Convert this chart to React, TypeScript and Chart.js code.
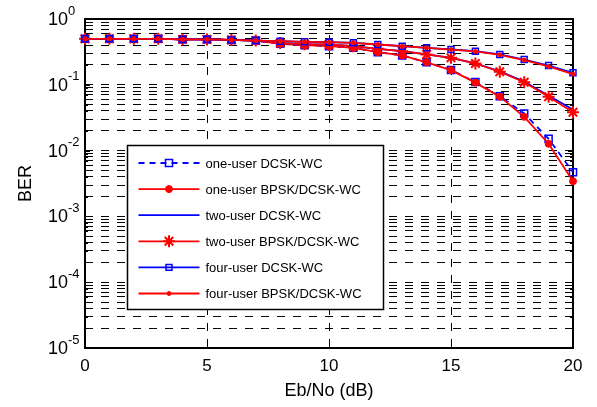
import React, { useEffect, useRef } from 'react';
import { Chart, registerables } from 'chart.js';
import { drawPoint } from 'chart.js/helpers';

Chart.register(...registerables);

// ---- data ----
const snrDb = [0, 1, 2, 3, 4, 5, 6, 7, 8, 9, 10, 11, 12, 13, 14, 15, 16, 17, 18, 19, 20];

const oneUserDCSK = [0.5, 0.5, 0.5, 0.5, 0.49, 0.49, 0.48, 0.47, 0.42, 0.4, 0.386, 0.365, 0.313, 0.279, 0.22, 0.168, 0.11, 0.067, 0.0366, 0.0151, 0.0047];
const oneUserBPSK = [0.5, 0.5, 0.5, 0.5, 0.49, 0.49, 0.48, 0.47, 0.42, 0.4, 0.386, 0.365, 0.313, 0.279, 0.22, 0.167, 0.108, 0.066, 0.0326, 0.0127, 0.00343];
const twoUserDCSK = [0.5, 0.5, 0.5, 0.5, 0.49, 0.49, 0.48, 0.47, 0.43, 0.415, 0.41, 0.386, 0.352, 0.324, 0.289, 0.257, 0.211, 0.16, 0.112, 0.068, 0.042];
const twoUserBPSK = [0.5, 0.5, 0.5, 0.5, 0.49, 0.49, 0.48, 0.47, 0.43, 0.415, 0.41, 0.386, 0.352, 0.324, 0.289, 0.257, 0.211, 0.158, 0.1095, 0.0657, 0.0383];
const fourUserDCSK = [0.5, 0.5, 0.5, 0.5, 0.49, 0.49, 0.48, 0.47, 0.46, 0.45, 0.444, 0.435, 0.41, 0.386, 0.365, 0.345, 0.324, 0.289, 0.242, 0.196, 0.152];
const fourUserBPSK = [0.5, 0.5, 0.5, 0.5, 0.49, 0.49, 0.48, 0.47, 0.46, 0.45, 0.444, 0.435, 0.41, 0.386, 0.365, 0.343, 0.321, 0.286, 0.238, 0.19, 0.145];

const seriesLabels = [
  'one-user DCSK-WC',
  'one-user BPSK/DCSK-WC',
  'two-user DCSK-WC',
  'two-user BPSK/DCSK-WC',
  'four-user DCSK-WC',
  'four-user BPSK/DCSK-WC',
];

const xTickValues = [0, 5, 10, 15, 20];
const yDecadeExponents = [0, -1, -2, -3, -4, -5];
const yMantissas = [1, 2, 3, 4, 5, 6, 7, 8, 9];

const xTitle = 'Eb/No (dB)';
const yTitle = 'BER';

const FONT = '"Liberation Sans", Arial, Helvetica, sans-serif';
const BLUE = '#0000ff';
const RED = '#ff0000';

const yGridValues: number[] = [];
for (let e = -5; e <= 0; e++) {
  for (const m of yMantissas) {
    const v = m * Math.pow(10, e);
    if (v <= 1.0000001) yGridValues.push(Number(v.toPrecision(6)));
  }
}

function isDecade(v: number) {
  const l = Math.log10(v);
  return Math.abs(l - Math.round(l)) < 1e-6;
}

const framePlugin = {
  id: 'matlabFrame',
  beforeDatasetsDraw(chart: any) {
    const { ctx, chartArea: a, scales } = chart;
    ctx.save();
    ctx.strokeStyle = '#000';
    ctx.setLineDash([]);
    ctx.lineWidth = 1;
    const seg = (x1: number, y1: number, x2: number, y2: number) => {
      ctx.beginPath();
      ctx.moveTo(x1, y1);
      ctx.lineTo(x2, y2);
      ctx.stroke();
    };
    for (const v of yGridValues) {
      const y = Math.round(scales.y.getPixelForValue(v)) + 0.5;
      const len = isDecade(v) ? 5 : 3;
      seg(a.left, y, a.left + len, y);
      seg(a.right, y, a.right - len, y);
    }
    for (const v of xTickValues) {
      const x = Math.round(scales.x.getPixelForValue(v)) + 0.5;
      seg(x, a.bottom, x, a.bottom - 5);
      seg(x, a.top, x, a.top + 5);
    }
    ctx.lineWidth = 2;
    ctx.strokeRect(Math.round(a.left), Math.round(a.top), Math.round(a.right - a.left), Math.round(a.bottom - a.top));
    ctx.restore();
  },
  afterDraw(chart: any) {
    const { ctx, chartArea: a, scales } = chart;
    ctx.save();
    ctx.fillStyle = '#000';
    // y tick labels 10^n
    for (const e of yDecadeExponents) {
      const y = scales.y.getPixelForValue(Math.pow(10, e));
      const xr = a.left - 17;
      ctx.font = `18px ${FONT}`;
      ctx.textAlign = 'right';
      ctx.textBaseline = 'middle';
      ctx.fillText('10', xr, y + 1);
      ctx.font = `13px ${FONT}`;
      ctx.textAlign = 'left';
      ctx.fillText(String(e), xr, y - 8);
    }
    // legend
    const bx = Math.round(a.left + 42) + 0.5;
    const by = Math.round(a.top + 126) + 0.5;
    const bw = 256;
    const bh = 164;
    ctx.fillStyle = '#fff';
    ctx.fillRect(bx, by, bw, bh);
    ctx.strokeStyle = '#000';
    ctx.lineWidth = 1.5;
    ctx.setLineDash([]);
    ctx.strokeRect(bx, by, bw, bh);
    const dsList = chart.data.datasets;
    dsList.forEach((ds: any, i: number) => {
      const ry = by + 17.5 + i * 26.1;
      const x1 = bx + 11;
      const x2 = bx + 72;
      ctx.save();
      ctx.strokeStyle = ds.borderColor;
      ctx.lineWidth = ds.borderWidth;
      ctx.setLineDash(ds.borderDash || []);
      ctx.beginPath();
      ctx.moveTo(x1, ry);
      ctx.lineTo(x2, ry);
      ctx.stroke();
      ctx.setLineDash([]);
      if (ds.pointRadius > 0) {
        ctx.fillStyle = ds.pointBackgroundColor;
        ctx.strokeStyle = ds.pointBorderColor;
        ctx.lineWidth = ds.pointBorderWidth;
        drawPoint(ctx, { pointStyle: ds.pointStyle, radius: ds.pointRadius, rotation: 0, borderWidth: ds.pointBorderWidth } as any, (x1 + x2) / 2, ry);
      }
      ctx.restore();
      ctx.fillStyle = '#000';
      ctx.font = `13px ${FONT}`;
      ctx.textAlign = 'left';
      ctx.textBaseline = 'middle';
      ctx.fillText(ds.label, bx + 78, ry + 1);
    });
    ctx.restore();
  },
};

export default function App() {
  const canvasRef = useRef<HTMLCanvasElement | null>(null);

  useEffect(() => {
    document.body.style.margin = '0';
    const canvas = canvasRef.current;
    if (!canvas) return;

    const common = { borderWidth: 1.8, tension: 0, clip: false as any };
    const datasets: any[] = [
      {
        ...common,
        label: seriesLabels[0],
        data: oneUserDCSK,
        borderColor: BLUE,
        borderDash: [6, 5],
        pointStyle: 'rect',
        pointRadius: 5,
        pointBorderWidth: 1.5,
        pointBackgroundColor: 'rgba(0,0,0,0)',
        pointBorderColor: BLUE,
        order: 6,
      },
      {
        ...common,
        label: seriesLabels[1],
        data: oneUserBPSK,
        borderColor: RED,
        pointStyle: 'circle',
        pointRadius: 3.5,
        pointBorderWidth: 1,
        pointBackgroundColor: RED,
        pointBorderColor: RED,
        order: 5,
      },
      {
        ...common,
        label: seriesLabels[2],
        data: twoUserDCSK,
        borderColor: BLUE,
        pointStyle: 'circle',
        pointRadius: 0,
        pointBorderWidth: 0,
        pointBackgroundColor: BLUE,
        pointBorderColor: BLUE,
        order: 4,
      },
      {
        ...common,
        label: seriesLabels[3],
        data: twoUserBPSK,
        borderColor: RED,
        pointStyle: 'star',
        pointRadius: 6,
        pointBorderWidth: 2,
        pointBackgroundColor: RED,
        pointBorderColor: RED,
        order: 3,
      },
      {
        ...common,
        label: seriesLabels[4],
        data: fourUserDCSK,
        borderColor: BLUE,
        pointStyle: 'rect',
        pointRadius: 4.2,
        pointBorderWidth: 1.5,
        pointBackgroundColor: 'rgba(0,0,0,0)',
        pointBorderColor: BLUE,
        order: 2,
      },
      {
        ...common,
        label: seriesLabels[5],
        data: fourUserBPSK,
        borderColor: RED,
        pointStyle: 'circle',
        pointRadius: 2,
        pointBorderWidth: 1,
        pointBackgroundColor: RED,
        pointBorderColor: RED,
        order: 1,
      },
    ];

    const chart = new Chart(canvas, {
      type: 'line',
      data: {
        labels: snrDb,
        datasets: datasets.map((d) => ({
          ...d,
          data: d.data.map((v: number, i: number) => ({ x: snrDb[i], y: v })),
        })),
      },
      options: {
        responsive: false,
        animation: false,
        devicePixelRatio: 1,
        layout: { padding: { left: 0, right: 24, top: 19, bottom: 0 } },
        plugins: {
          legend: { display: false },
          tooltip: { enabled: false },
        },
        scales: {
          x: {
            type: 'linear',
            min: 0,
            max: 20,
            afterBuildTicks: (scale: any) => {
              scale.ticks = xTickValues.map((v) => ({ value: v }));
            },
            afterFit: (scale: any) => {
              scale.height = 59;
            },
            ticks: {
              autoSkip: false,
              color: '#000',
              padding: 8,
              maxRotation: 0,
              font: { family: FONT, size: 17 },
              callback: (v: any) => String(v),
            },
            grid: { color: '#000', lineWidth: 1, drawTicks: false },
            border: { display: false, dash: [8, 8] },
            title: {
              display: true,
              text: xTitle,
              color: '#000',
              font: { family: FONT, size: 18 },
              padding: { top: 0, bottom: 5 },
            },
          },
          y: {
            type: 'logarithmic',
            min: 1e-5,
            max: 1,
            afterBuildTicks: (scale: any) => {
              scale.ticks = yGridValues.map((v) => ({ value: v, major: isDecade(v) }));
            },
            afterFit: (scale: any) => {
              scale.width = 85;
            },
            ticks: { display: false, autoSkip: false },
            grid: { color: '#000', lineWidth: 1, drawTicks: false },
            border: { display: false, dash: [8, 8] },
            title: {
              display: true,
              text: yTitle,
              color: '#000',
              font: { family: FONT, size: 18 },
              padding: { top: 15, bottom: 0 },
            },
          },
        },
      },
      plugins: [framePlugin],
    } as any);

    return () => chart.destroy();
  }, []);

  return (
    <div style={{ width: 597, height: 407, background: '#fff' }}>
      <canvas ref={canvasRef} width={597} height={407} style={{ display: 'block', width: 597, height: 407 }} />
    </div>
  );
}
